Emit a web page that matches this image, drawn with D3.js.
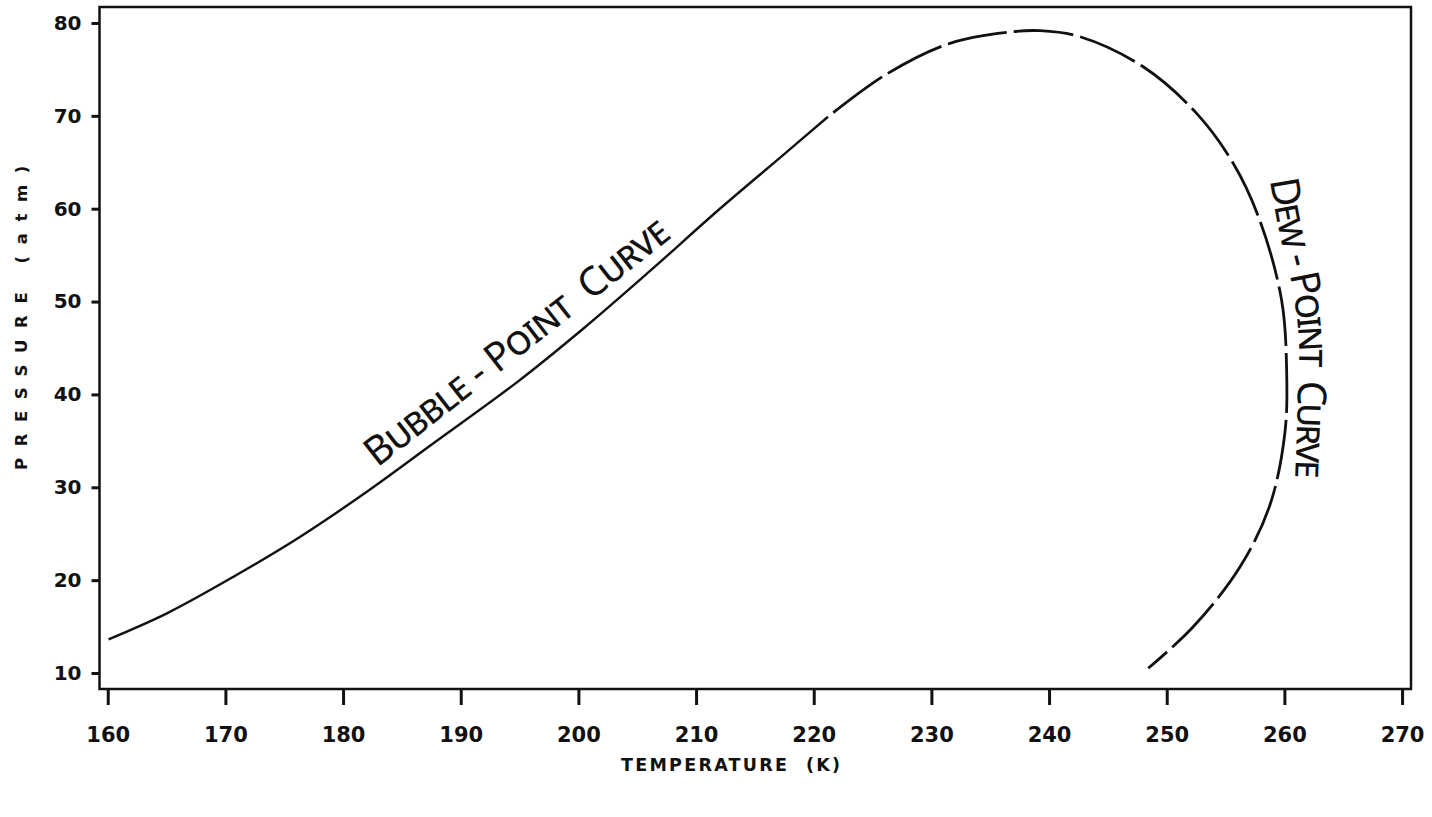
<!DOCTYPE html>
<html>
<head>
<meta charset="utf-8">
<script src="https://cdn.jsdelivr.net/npm/d3@7"></script>
<style>
  html, body { margin: 0; padding: 0; background: #fff; }
  svg { display: block; }
</style>
</head>
<body>
<svg id="chart" width="1432" height="817"></svg>
<script>
// ---- Data ----
const xTicks = [160, 170, 180, 190, 200, 210, 220, 230, 240, 250, 260, 270];
const yTicks = [10, 20, 30, 40, 50, 60, 70, 80];

// Bubble-point curve, solid part (Temperature K, Pressure atm)
const bubbleT = [160.07, 165.03, 170.69, 176.36, 182.02, 187.68, 194.77, 200.43, 206.09, 211.76, 217.42, 221.21];
const bubbleP = [13.63, 16.43, 20.37, 24.68, 29.52, 34.74, 41.3, 47.1, 53.3, 59.7, 65.8, 69.9];

// Near-critical part of the envelope and the dew-point curve (dashed)
const envelopeT = [221.21, 226.2, 231.58, 236.96, 239.23, 242.63, 248.0, 252.54, 255.65, 257.9, 259.76, 260.19, 260.04, 258.77, 256.22, 252.23, 248.43];
const envelopeP = [69.9, 74.5, 77.81, 79.06, 79.17, 78.52, 75.29, 70.27, 64.89, 58.78, 50.17, 42.63, 35.85, 28.09, 21.41, 14.95, 10.51];

const xTitle = "TEMPERATURE  (K)";
const yTitle = "PRESSURE (atm)";
const bubbleLabel = "Bubble - Point  Curve";
const bubbleLabelT = 182.9, bubbleLabelP = 32.08;
const dewLabel = "Dew - Point  Curve";
// guide line the dew-point lettering follows
const dewGuideT = [258.76, 259.61, 260.71, 261.22, 261.13, 260.88];
const dewGuideP = [63.09, 57.17, 51.25, 45.86, 39.40, 29.71];

// ---- Layout ----
const svg = d3.select("#chart");
const x = d3.scaleLinear().domain([159.30, 270.76]).range([99.5, 1411]);
const y = d3.scaleLinear().domain([8.28, 81.72]).range([689, 7]);

const tickFont = "'DejaVu Sans', Verdana, sans-serif";
const handFont = "'Noto Sans', 'Open Sans', sans-serif";

// Frame
svg.append("rect")
  .attr("x", x.range()[0]).attr("y", y.range()[1])
  .attr("width", x.range()[1] - x.range()[0])
  .attr("height", y.range()[0] - y.range()[1])
  .attr("fill", "none").attr("stroke", "#111").attr("stroke-width", 2.5);

// X axis
const gx = svg.append("g")
  .attr("transform", `translate(0,${y.range()[0]})`)
  .call(d3.axisBottom(x).tickValues(xTicks).tickSize(16).tickSizeOuter(0).tickPadding(22).tickFormat(d3.format("d")));
gx.select(".domain").remove();
gx.selectAll(".tick line").attr("stroke", "#111").attr("stroke-width", 3);
gx.selectAll(".tick text")
  .attr("fill", "#111")
  .style("font-family", tickFont).style("font-weight", "bold").style("font-size", "21px");

// Y axis
const gy = svg.append("g")
  .attr("transform", `translate(${x.range()[0]},0)`)
  .call(d3.axisLeft(y).tickValues(yTicks).tickSize(8).tickSizeOuter(0).tickPadding(10).tickFormat(d3.format("d")));
gy.select(".domain").remove();
gy.selectAll(".tick line").attr("stroke", "#111").attr("stroke-width", 3);
gy.selectAll(".tick text")
  .attr("fill", "#111")
  .style("font-family", tickFont).style("font-weight", "bold").style("font-size", "20px");

// Axis titles
svg.append("text")
  .attr("x", 621).attr("y", 771)
  .attr("textLength", 219).attr("lengthAdjust", "spacing")
  .style("white-space", "pre")
  .style("font-family", tickFont).style("font-weight", "bold").style("font-size", "17.5px")
  .attr("fill", "#111")
  .text(xTitle);

svg.append("text")
  .attr("transform", "translate(27,470) rotate(-90)")
  .style("white-space", "pre")
  .style("font-family", tickFont).style("font-weight", "bold").style("font-size", "16.5px")
  .style("letter-spacing", "11.6px")
  .attr("fill", "#111")
  .text(yTitle);

// Curves
const line = d3.line()
  .x(d => x(d[0])).y(d => y(d[1]))
  .curve(d3.curveCatmullRom.alpha(0.5));

const bubbleData = bubbleT.map((t, i) => [t, bubbleP[i]]);
const envelopeData = envelopeT.map((t, i) => [t, envelopeP[i]]);

svg.append("path")
  .datum(bubbleData)
  .attr("d", line)
  .attr("fill", "none").attr("stroke", "#111").attr("stroke-width", 2.4)
  .attr("stroke-linecap", "butt");

svg.append("path")
  .datum(envelopeData)
  .attr("d", line)
  .attr("fill", "none").attr("stroke", "#111").attr("stroke-width", 2.8)
  .attr("stroke-dasharray", "60,7").attr("stroke-dashoffset", 60)
  .attr("stroke-linecap", "butt");

// Hand-lettered curve labels
svg.append("text")
  .attr("transform", `translate(${x(bubbleLabelT)},${y(bubbleLabelP)}) rotate(-38)`)
  .attr("textLength", 375).attr("lengthAdjust", "spacing")
  .style("white-space", "pre")
  .style("font-family", handFont)
  .style("font-variant", "small-caps")
  .style("font-size", "40px")
  .attr("fill", "#111")
  .text(bubbleLabel);

const dewGuide = dewGuideT.map((t, i) => [t, dewGuideP[i]]);
svg.append("defs").append("path")
  .attr("id", "dewGuide")
  .datum(dewGuide)
  .attr("d", d3.line().x(d => x(d[0])).y(d => y(d[1])).curve(d3.curveCatmullRom.alpha(0.5)));

const dewText = svg.append("text")
  .style("white-space", "pre")
  .style("font-family", handFont)
  .style("font-variant", "small-caps")
  .style("font-size", "40px")
  .attr("fill", "#111");
dewText.append("textPath")
  .attr("href", "#dewGuide")
  .text(dewLabel);
// stretch the lettering to span ~298px along the guide
const natural = dewText.node().getComputedTextLength();
const extra = (298 - natural) / dewLabel.length;
dewText.style("letter-spacing", extra + "px");
</script>
</body>
</html>
